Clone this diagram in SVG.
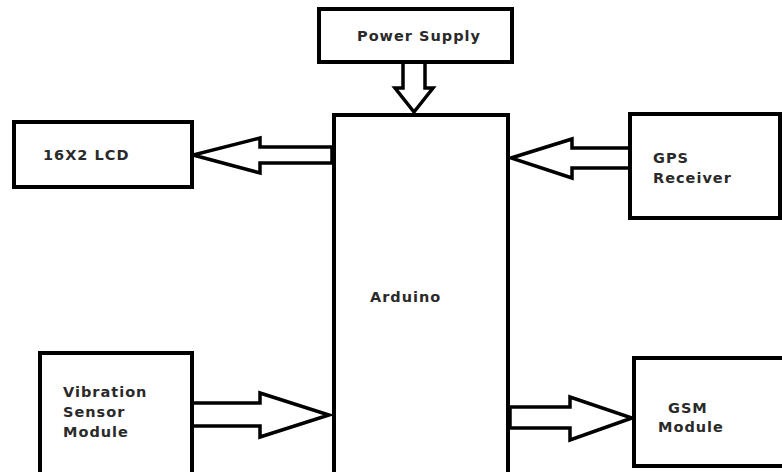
<svg xmlns="http://www.w3.org/2000/svg" width="782" height="472" viewBox="0 0 782 472">
<style>
.box{fill:#fff;stroke:#000;stroke-width:4}
.arr{fill:#fff;stroke:#000;stroke-width:3.5;stroke-linejoin:miter}
.t{font-family:"DejaVu Sans",sans-serif;font-weight:bold;font-size:14.5px;letter-spacing:1px;fill:#2a2a2a}
</style>
<rect width="782" height="472" fill="#fff"/>
<g id="connectors">
<polygon class="arr" points="403,62 425,62 425,88 433,88 414,112 395,88 403,88"/>
<polygon class="arr" points="332,147 260,147 260,138 193,155 260,173 260,163 332,163"/>
<polygon class="arr" points="630,148 572,148 572,139 511,158 572,178 572,168 630,168"/>
<polygon class="arr" points="192,403 260,403 260,393 329,415 260,437 260,426 192,426"/>
<polygon class="arr" points="510,407 570,407 570,397 632,418 570,440 570,428 510,428"/>
</g>
<g id="power"><rect class="box" x="319" y="9" width="193" height="53"/><text class="t" x="357" y="41">Power Supply</text></g>
<g id="arduino"><rect class="box" x="334" y="115" width="174" height="370"/><text class="t" x="370" y="302">Arduino</text></g>
<g id="lcd"><rect class="box" x="14" y="122" width="178" height="65"/><text class="t" x="43" y="160">16X2 LCD</text></g>
<g id="gps"><rect class="box" x="630" y="114" width="150" height="104"/><text class="t" x="653" y="163">GPS</text><text class="t" x="653" y="183">Receiver</text></g>
<g id="vibration"><rect class="box" x="40" y="353" width="152" height="130"/><text class="t" x="63" y="397">Vibration</text><text class="t" x="63" y="417">Sensor</text><text class="t" x="63" y="437">Module</text></g>
<g id="gsm"><rect class="box" x="634" y="358" width="160" height="108"/><text class="t" x="668" y="413">GSM</text><text class="t" x="658" y="432">Module</text></g>
</svg>
